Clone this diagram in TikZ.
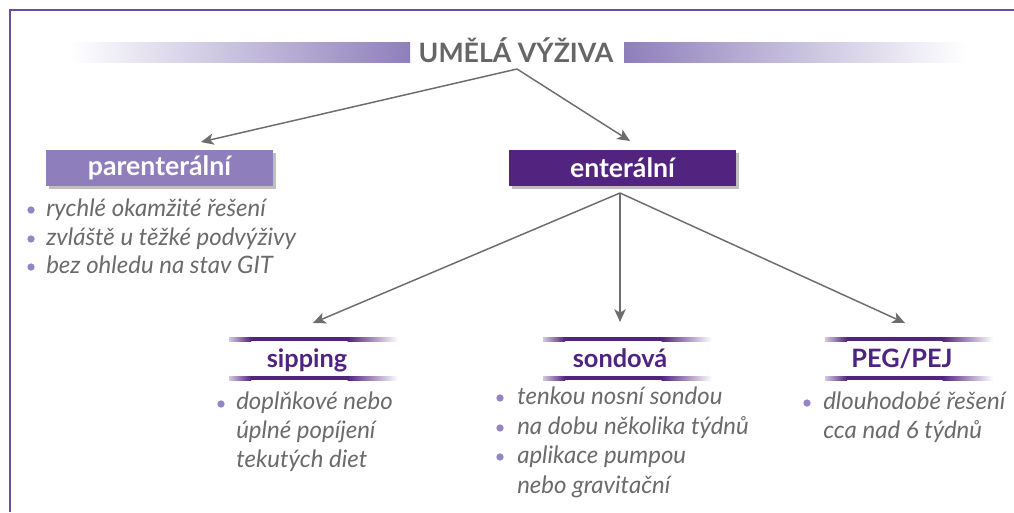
\documentclass[tikz,border=0pt]{standalone}
\usepackage{fontspec}
\setmainfont{Lato}
\usetikzlibrary{arrows.meta,shadows}
\definecolor{lpurple}{HTML}{8E7FBC}
\definecolor{dpurple}{HTML}{52237F}
\definecolor{headc}{HTML}{4E2381}
\definecolor{graytext}{HTML}{6B6B6D}
\definecolor{arrowc}{HTML}{6D6D70}
\definecolor{bulletc}{HTML}{9585C4}
\definecolor{framec}{HTML}{6A4CA6}
\definecolor{titlec}{HTML}{666668}
\newcommand\myrule[3]{%
  \shade[left color=dpurple!25, right color=dpurple] (#1,#3-2) rectangle (#1+22,#3+2);
  \fill[dpurple] (#1+21.5,#3-2) rectangle (#2-50,#3+2);
  \shade[left color=dpurple, right color=white] (#2-50.5,#3-2) rectangle (#2,#3+2);
}
\begin{document}
\begin{tikzpicture}[x=0.75pt,y=-0.75pt,
  conn/.style={draw=arrowc, line width=1.1pt, -{Stealth[length=9.5pt,width=8.5pt,inset=2.5pt]}},
  box/.style={text=white, font=\bfseries\fontsize{20}{23}\selectfont, minimum width=170.25pt, minimum height=27pt, inner sep=0pt,
    drop shadow={shadow xshift=2pt, shadow yshift=-2pt, opacity=0.25, fill=black}},
  subhead/.style={text=headc, font=\bfseries\fontsize{19}{22}\selectfont, inner sep=0pt},
  item/.style={text=graytext, font=\itshape\fontsize{18}{21}\selectfont, inner sep=0pt},
  dot/.style={circle, fill=bulletc, inner sep=0pt, minimum size=5.5pt}]
\useasboundingbox (0,0) rectangle (1014,512);
\fill[white] (0,0) rectangle (1014,512);
% frame
\draw[framec, line width=1.5pt] (10,512) -- (10,10) -- (1014,10);
% title bars
\shade[left color=white, right color=lpurple] (70,42) rectangle (410,62);
\shade[left color=lpurple, right color=white] (624,42) rectangle (966,62);
\node[font=\bfseries\fontsize{20}{23}\selectfont, text=titlec, anchor=base, inner sep=0pt] (title) at (516,62) {UMĚLÁ VÝŽIVA};
% main boxes
\node[box, fill=lpurple] (par) at (159.5,168) {parenterální};
\node[box, fill=dpurple] (ent) at (622.5,168) {enterální};
% connectors from title
\coordinate (split) at (517,69);
\coordinate (tipP) at (201,142);
\coordinate (tipE) at (630,141);
\draw[conn] (split) -- (tipP);
\draw[conn] (split) -- (tipE);
% connectors from enteral
\coordinate (esplit) at (620,193);
\coordinate (tipS) at (313,323);
\coordinate (tipN) at (620,322);
\coordinate (tipG) at (905,323);
\draw[conn] (esplit) -- (tipS);
\draw[conn] (esplit) -- (tipN);
\draw[conn] (esplit) -- (tipG);
% parenteral items
\node[dot] (pb1) at (31,210) {};
\node[dot] (pb2) at (31,239) {};
\node[dot] (pb3) at (31,267) {};
\node[item, anchor=base west] (p1) at (46,216) {rychlé okamžité řešení};
\node[item, anchor=base west] (p2) at (46,245) {zvláště u těžké podvýživy};
\node[item, anchor=base west] (p3) at (46,273) {bez ohledu na stav GIT};
% sub headings
\myrule{229}{398}{339}
\myrule{229}{398}{378}
\node[subhead, anchor=base] (sip) at (307,367) {sipping};
\myrule{543}{712}{339}
\myrule{543}{712}{378}
\node[subhead, anchor=base] (son) at (620,367) {sondová};
\myrule{825}{993}{339}
\myrule{825}{993}{378}
\node[subhead, anchor=base] (peg) at (902,367) {PEG/PEJ};
% sipping items
\node[dot] (sb1) at (221,404) {};
\node[item, anchor=base west] (s1) at (236,409) {doplňkové nebo};
\node[item, anchor=base west] (s2) at (236,438) {úplné popíjení};
\node[item, anchor=base west] (s3) at (236,467) {tekutých diet};
% sondova items
\node[dot] (nb1) at (500,398) {};
\node[dot] (nb2) at (500,428) {};
\node[dot] (nb3) at (500,457) {};
\node[item, anchor=base west] (n1) at (517,404) {tenkou nosní sondou};
\node[item, anchor=base west] (n2) at (517,434) {na dobu několika týdnů};
\node[item, anchor=base west] (n3) at (517,463) {aplikace pumpou};
\node[item, anchor=base west] (n4) at (517,493) {nebo gravitační};
% PEG items
\node[dot] (gb1) at (807,403) {};
\node[item, anchor=base west] (g1) at (823,409) {dlouhodobé řešení};
\node[item, anchor=base west] (g2) at (823,438) {cca nad 6 týdnů};
\end{tikzpicture}
\end{document}
